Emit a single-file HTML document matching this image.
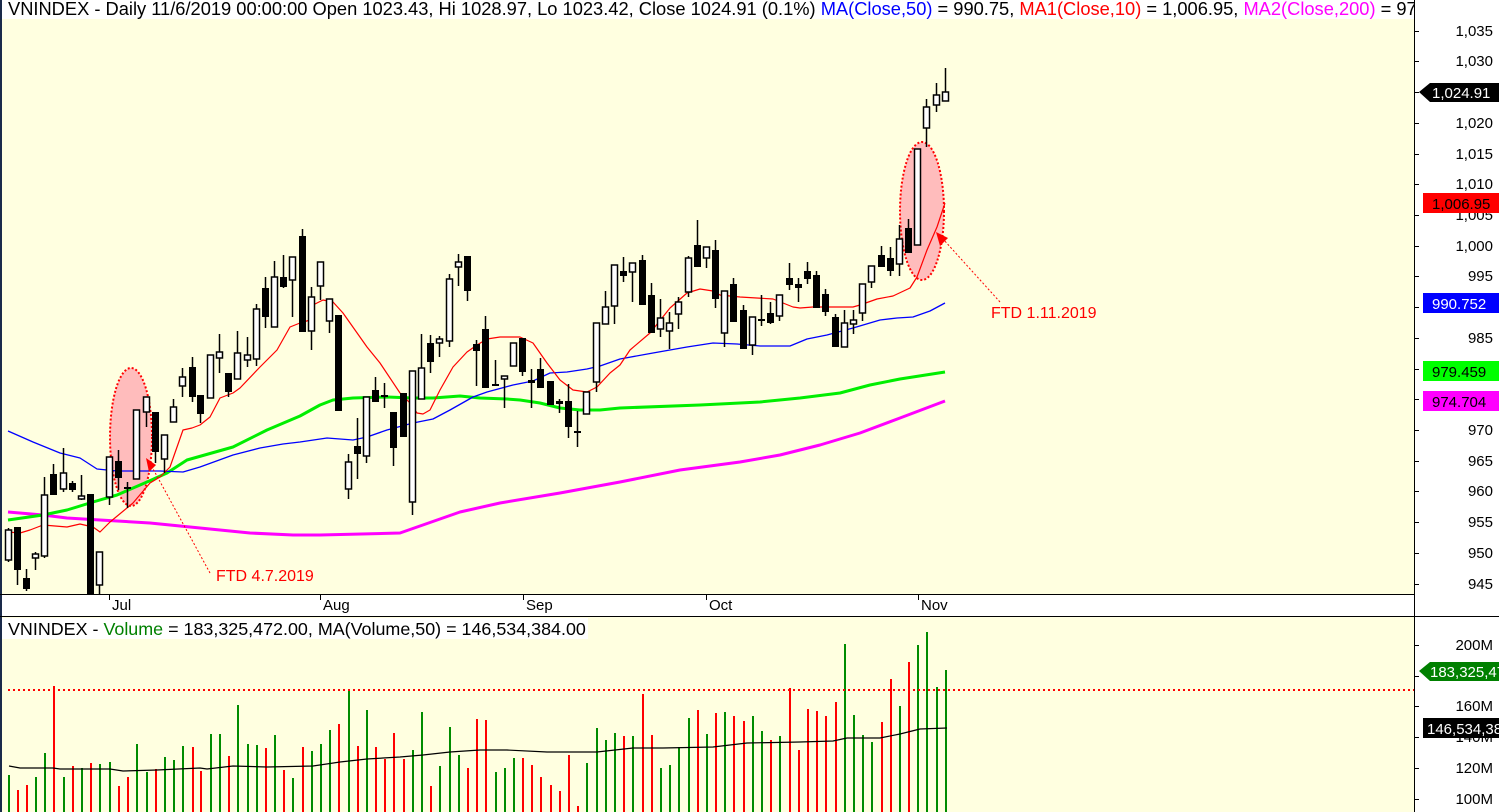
<!DOCTYPE html>
<html><head><meta charset="utf-8"><style>
html,body{margin:0;padding:0;background:#fff;}
svg{display:block;font-family:"Liberation Sans",Arial,sans-serif;}
</style></head><body>
<svg id="c" width="1499" height="812" xmlns="http://www.w3.org/2000/svg">
<rect x="0" y="0" width="1499" height="812" fill="#fff"/>
<rect x="0" y="0" width="1414" height="594" fill="#ffffe0"/>
<rect x="0" y="616" width="1414" height="196" fill="#ffffe0"/>
<rect x="0" y="0" width="2" height="812" fill="#1a2a4a"/>
<line x1="0" y1="594.5" x2="1414" y2="594.5" stroke="#000"/>
<line x1="0" y1="616.5" x2="1499" y2="616.5" stroke="#000"/>
<ellipse cx="131" cy="437" rx="21" ry="69" fill="#ffbcbc" stroke="#ff0000" stroke-width="2" stroke-dasharray="2,2"/>
<ellipse cx="922" cy="211" rx="22" ry="69" fill="#ffbcbc" stroke="#ff0000" stroke-width="2" stroke-dasharray="2,2"/>
<g id="ma"></g>
<g id="cd"></g>
<g id="vol"></g>
<!-- headers -->
<rect x="2" y="0" width="1412" height="19" fill="#fff"/>
<text x="8" y="15" font-size="18.3" fill="#000">VNINDEX - Daily 11/6/2019 00:00:00 Open 1023.43, Hi 1028.97, Lo 1023.42, Close 1024.91 (0.1%) <tspan fill="#0000ff">MA(Close,50)</tspan> = 990.75, <tspan fill="#ff0000">MA1(Close,10)</tspan> = 1,006.95, <tspan fill="#ff00ff">MA2(Close,200)</tspan> = 974.704</text>
<rect x="1414" y="0" width="85" height="19" fill="#fff"/>
<line x1="1414.5" y1="0" x2="1414.5" y2="812" stroke="#000"/>
<rect x="2" y="618" width="586" height="21" fill="#fff"/>
<text x="8" y="635" font-size="17.9" fill="#000">VNINDEX - <tspan fill="#008000">Volume</tspan> = 183,325,472.00, MA(Volume,50) = 146,534,384.00</text>
<!-- date axis -->
<g stroke="#000"><line x1="109.5" y1="594" x2="109.5" y2="600"/><line x1="320.5" y1="594" x2="320.5" y2="600"/><line x1="523.5" y1="594" x2="523.5" y2="600"/><line x1="706.5" y1="594" x2="706.5" y2="600"/><line x1="918.5" y1="594" x2="918.5" y2="600"/></g>
<g font-size="15" fill="#000"><text x="112" y="610">Jul</text><text x="323" y="610">Aug</text><text x="526" y="610">Sep</text><text x="709" y="610">Oct</text><text x="921" y="610">Nov</text></g>
<line x1="210" y1="573" x2="152" y2="467" stroke="#ff0000" stroke-dasharray="2,2"/>
<line x1="1000" y1="302" x2="943" y2="239" stroke="#ff0000" stroke-dasharray="2,2"/>
<polygon points="146,458 156,465 149,472" fill="#ff0000"/>
<polygon points="936,232 948,238 940,246" fill="#ff0000"/>
<text x="216" y="581" font-size="16" fill="#ff0000">FTD 4.7.2019</text>
<text x="991" y="318" font-size="16" fill="#ff0000">FTD 1.11.2019</text>
<!-- axis -->
<g id="ax" font-size="15" fill="#000" text-anchor="end"></g>
<!-- tags -->
<polygon points="1419,92 1430,83 1499,83 1499,102 1430,102" fill="#000"/>
<text x="1432" y="98" font-size="15" fill="#fff">1,024.91</text>
<rect x="1423" y="193" width="76" height="20" fill="#ff0000"/>
<text x="1432" y="209" font-size="15" fill="#000">1,006.95</text>
<rect x="1423" y="293" width="76" height="20" fill="#0000ff"/>
<text x="1432" y="309" font-size="15" fill="#fff">990.752</text>
<rect x="1423" y="361" width="76" height="20" fill="#00ff00"/>
<text x="1432" y="377" font-size="15" fill="#000">979.459</text>
<rect x="1423" y="391" width="76" height="20" fill="#ff00ff"/>
<text x="1432" y="407" font-size="15" fill="#000">974.704</text>
<polygon points="1419,671 1430,662 1499,662 1499,681 1430,681" fill="#008000"/>
<text x="1430" y="677" font-size="15" fill="#fff">183,325,472</text>
<rect x="1423" y="718" width="76" height="20" fill="#000"/>
<text x="1427" y="734" font-size="15" fill="#fff">146,534,384</text>
</svg>
<script>
var NS="http://www.w3.org/2000/svg";
function el(p,t,a){var e=document.createElementNS(NS,t);for(var k in a)e.setAttribute(k,a[k]);p.appendChild(e);return e;}
var C=[
[8,'w',530,560,528,562],[17,'b',527,570,527,585],[26,'b',578,589,569,591],[35,'w',554,558,552,570],[44,'w',495,556,477,558],[53,'b',474,495,464,495],[63,'w',473,489,448,492],[72,'b',483,490,481,492],[81,'w',496,499,475,500],[90,'b',494,594,494,594],
[99,'w',552,585,552,594],[109,'w',457,497,457,505],[118,'b',461,478,450,490],[127,'b',487,489,482,508],[136,'w',410,479,410,479],[146,'w',397,412,397,427],[155,'b',412,452,412,463],[164,'w',435,459,435,473],[173,'w',407,422,399,422],[182,'w',377,386,368,397],
[192,'b',367,397,357,402],[200,'b',395,414,395,423],[210,'w',355,398,355,398],[219,'w',352,358,334,373],[228,'b',373,392,373,397],[237,'w',353,379,331,379],[247,'w',355,360,337,367],[256,'w',309,359,304,366],[265,'b',288,317,277,328],[274,'w',277,327,261,327],
[283,'b',277,287,255,288],[292,'w',257,280,257,317],[302,'b',236,332,229,332],[311,'w',297,331,287,350],[320,'w',262,286,262,300],[329,'w',299,321,299,333],[338,'b',315,411,315,411],[348,'w',462,489,454,499],[357,'b',446,454,418,479],[366,'w',397,456,397,463],
[375,'b',390,402,377,402],[384,'b',395,397,383,408],[393,'b',412,448,412,466],[403,'b',393,437,393,437],[412,'w',371,502,371,515],[421,'w',368,399,334,399],[430,'b',343,362,335,373],[439,'w',339,343,336,357],[449,'w',279,341,274,347],[458,'w',262,267,254,286],
[467,'b',256,291,256,301],[476,'b',344,351,340,386],[485,'b',329,388,316,388],[495,'b',384,386,360,386],[504,'w',376,379,376,408],[513,'w',343,366,343,366],[522,'b',338,372,338,376],[531,'b',380,383,369,408],[540,'b',369,388,358,388],[550,'b',381,405,381,405],
[559,'b',401,404,399,413],[568,'b',401,427,384,438],[577,'b',431,433,411,447],[586,'w',392,414,392,414],[596,'w',323,382,323,392],[605,'w',307,324,291,324],[614,'w',265,306,265,324],[623,'b',271,276,257,282],[632,'w',263,272,263,302],[642,'b',260,305,255,305],
[651,'b',295,333,283,333],[660,'w',318,329,299,337],[669,'w',323,331,312,349],[678,'w',302,314,297,329],[688,'w',258,292,256,297],[697,'b',245,267,220,267],[706,'w',247,258,247,268],[715,'b',250,299,240,308],[724,'w',291,333,291,347],[733,'b',284,322,278,322],
[743,'b',310,349,305,349],[752,'w',317,345,317,355],[761,'b',319,321,295,326],[770,'b',313,323,302,324],[779,'w',295,316,295,321],[789,'b',278,285,263,290],[798,'b',284,288,278,302],[807,'b',271,279,262,284],[816,'b',275,308,271,308],[825,'b',294,312,289,316],
[835,'b',317,347,314,347],[844,'w',323,347,310,347],[853,'w',320,324,310,334],[862,'w',284,313,284,321],[871,'w',266,282,266,288],[881,'b',255,267,246,267],[890,'b',258,271,247,276],[899,'w',239,264,225,276],[908,'b',228,253,219,253],[917,'w',149,245,149,245],
[926,'w',107,128,99,147],[936,'w',95,105,83,112],[945,'w',92,101,68,101]];
var V=[[775,'g'],[790,'r'],[785,'r'],[777,'g'],[753,'g'],[686,'r'],[777,'g'],[766,'r'],[768,'g'],[763,'r'],[764,'g'],[762,'g'],[786,'r'],[777,'r'],[744,'g'],[772,'g'],[769,'r'],[757,'g'],[760,'g'],[746,'g'],[747,'r'],[771,'r'],[734,'g'],[734,'g'],[756,'r'],[705,'g'],[744,'g'],[745,'g'],[748,'r'],[735,'g'],[770,'r'],[778,'g'],[747,'r'],[751,'g'],[744,'g'],[730,'g'],[724,'r'],[691,'g'],[746,'r'],[710,'g'],[747,'r'],[759,'r'],[733,'r'],[759,'r'],[750,'g'],[712,'g'],[786,'r'],[766,'g'],[727,'g'],[755,'g'],[768,'r'],[719,'r'],
[720,'r'],[772,'g'],[768,'g'],[758,'g'],[758,'r'],[765,'r'],[777,'r'],[785,'r'],[791,'r'],[755,'r'],[806,'r'],[763,'g'],[728,'g'],[740,'g'],[733,'g'],[736,'r'],[736,'g'],[694,'r'],[735,'r'],[768,'g'],[765,'g'],[747,'g'],[718,'g'],[710,'r'],[734,'g'],[713,'r'],[712,'g'],[716,'r'],[721,'r'],[716,'g'],[731,'g'],[740,'r'],[736,'g'],[688,'r'],[750,'r'],[709,'r'],[711,'r'],[716,'r'],[702,'r'],[644,'g'],[715,'g'],[735,'g'],[742,'g'],[722,'r'],[679,'r'],[706,'g'],[662,'r'],[645,'g'],[632,'g'],[687,'g'],[670,'g']];
var ma=document.getElementById('ma'),cd=document.getElementById('cd'),vol=document.getElementById('vol');
function pl(p,pts,col,w){el(p,'polyline',{points:pts,fill:'none',stroke:col,'stroke-width':w,'stroke-linejoin':'round'});}
pl(ma,"8,512 43,515 67,518 100,520 150,523 200,528 250,533 293,535 320,535 400,533 420,526 460,512 500,503 560,493 620,482 680,470 740,462 780,455 820,445 860,433 900,418 945,401","#ff00ff",3);
pl(ma,"8,520 43,515 67,510 93,502 117,495 147,482 167,473 187,460 233,447 267,430 300,416 320,405 333,400 353,398 387,397 413,398 433,398 460,396 480,398 507,399 520,400 540,403 560,408 580,410 600,410 620,408 700,405 760,402 800,398 840,393 870,385 900,379 945,372","#00ee00",3);
pl(ma,"8,431 33,442 60,453 80,458 97,469 117,471 160,471 183,472 200,467 233,455 260,448 283,444 300,442 327,438 353,440 367,437 387,430 413,423 433,419 450,410 473,397 487,392 513,385 533,381 550,373 567,372 587,369 600,366 620,359 653,353 687,347 713,343 737,344 760,346 790,346 807,339 827,335 853,328 880,320 897,318 913,317 930,311 945,303","#0000ff",1.3);
pl(ma,"8,532 20,533 30,530 43,525 67,527 80,524 93,527 100,532 110,522 133,503 150,483 160,477 170,467 183,430 192,428 200,425 210,417 220,398 233,393 240,388 260,367 277,350 290,327 300,323 310,320 313,305 323,300 333,302 343,313 367,347 380,363 400,393 410,403 417,413 423,414 430,410 440,390 453,367 467,352 477,345 487,339 500,337 520,337 533,343 547,363 560,380 573,390 587,392 597,387 610,373 620,365 630,350 650,333 670,308 687,293 700,289 713,291 720,295 740,297 773,299 793,307 800,308 813,307 853,307 860,305 877,299 893,296 910,288 917,277 927,250 937,227 945,203","#ff0000",1.2);
C.forEach(function(c){var x=c[0];
 el(cd,'line',{x1:x+0.5,x2:x+0.5,y1:c[4],y2:c[5],stroke:'#000','stroke-width':1.5});
 if(c[1]=='b'){el(cd,'rect',{x:x-3,y:c[2],width:7,height:Math.max(2,c[3]-c[2]),fill:'#000'});}
 else{el(cd,'rect',{x:x-2.5,y:c[2],width:6,height:Math.max(2,c[3]-c[2]),fill:'#fff',stroke:'#000','stroke-width':1.5});}
});
V.forEach(function(v,i){var x=C[i][0];el(vol,'rect',{x:x,y:v[0],width:2,height:812-v[0],fill:v[1]=='g'?'#008c00':'#ff0000'});});
el(vol,'line',{x1:8,x2:1414,y1:690,y2:690,stroke:'#ff0000','stroke-width':2,'stroke-dasharray':'2,3'});
pl(vol,"9,766 20,768 53,768 60,769 110,769 123,771 157,770 200,768 207,769 233,766 267,767 313,766 340,762 367,759 400,757 423,755 450,752 480,750 507,750 547,752 597,752 633,748 663,748 713,747 747,743 800,742 833,741 847,738 880,738 900,734 920,729 947,728","#000",1.2);
var ax=document.getElementById('ax');
function lab(y,t){el(ax,'line',{x1:1414,x2:1419,y1:y+0.5,y2:y+0.5,stroke:'#000'});var e=el(ax,'text',{x:1493,y:y+5});e.textContent=t;}
[[31,'1,035'],[61,'1,030'],[123,'1,020'],[154,'1,015'],[184,'1,010'],[215,'1,005'],[246,'1,000'],[276,'995'],[338,'985'],[430,'970'],[461,'965'],[491,'960'],[522,'955'],[553,'950'],[584,'945'],[645,'200M'],[676,'180M'],[706,'160M'],[737,'140M'],[768,'120M'],[799,'100M']].forEach(function(a){lab(a[0],a[1]);});
[92,307,369,399].forEach(function(y){el(ax,'line',{x1:1414,x2:1419,y1:y+0.5,y2:y+0.5,stroke:'#000'});});
</script>
</body></html>
